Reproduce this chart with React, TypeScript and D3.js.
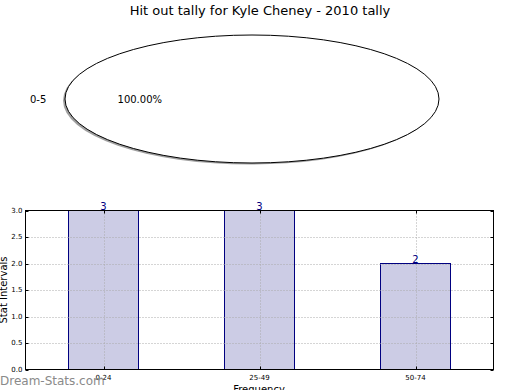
import React from "react";
import * as d3 from "d3";

const pieLabels = ["0-5"];
const pieValues = [100];
const categories = ["0-24", "25-49", "50-74"];
const barValues = [3, 3, 2];
const yTicks = [0, 0.5, 1.0, 1.5, 2.0, 2.5, 3.0];

const W = 520, H = 390;

export default function App() {
  // pie
  const cx = 252, cy = 99, rx = 187, ry = 64;
  const pie = d3.pie<number>().sort(null).startAngle(Math.PI / 2).endAngle(Math.PI / 2 + 2 * Math.PI);
  const arcs = pie(pieValues);
  const arc = d3.arc<d3.PieArcDatum<number>>().innerRadius(0).outerRadius(1);
  const total = d3.sum(pieValues);

  // bars
  const left = 25.5, right = 493.5, top = 210.5, bottom = 369.5;
  const x = d3.scaleLinear().domain([-0.5, categories.length - 0.5]).range([left, right]);
  const y = d3.scaleLinear().domain([0, 3]).range([bottom, top]);
  const bw = 0.45;
  const font = "DejaVu Sans, sans-serif";

  return (
    <svg width={W} height={H} style={{ position: "absolute", left: 0, top: 0 }} fontFamily={font}>
      <rect width={W} height={H} fill="#fff" />
      <text x={260} y={15} textAnchor="middle" fontSize={13}>Hit out tally for Kyle Cheney - 2010 tally</text>
      {/* pie shadow */}
      <g transform={`translate(${cx - 2},${cy + 1.5}) scale(${rx},${ry})`}>
        {arcs.map((a, i) => (
          <path key={i} d={arc(a) || ""} fill="#777" opacity={0.7} />
        ))}
      </g>
      <g transform={`translate(${cx},${cy}) scale(${rx},${ry})`}>
        {arcs.map((a, i) => (
          <path key={i} d={arc(a) || ""} fill="#fff" stroke="#000" strokeWidth={1} vectorEffect="non-scaling-stroke" />
        ))}
      </g>
      {arcs.map((a, i) => {
        const m = (a.startAngle + a.endAngle) / 2;
        const lx = cx + Math.sin(m) * rx * 1.1;
        const ly = cy - Math.cos(m) * ry * 1.1;
        const px = cx + Math.sin(m) * rx * 0.6;
        const py = cy - Math.cos(m) * ry * 0.6;
        return (
          <g key={i} fontSize={10}>
            <text x={lx} y={ly} dy="0.35em" textAnchor={Math.sin(m) < 0 ? "end" : "start"}>{pieLabels[i]}</text>
            <text x={px} y={py} dy="0.35em" textAnchor="middle">{((pieValues[i] / total) * 100).toFixed(2)}%</text>
          </g>
        );
      })}

      {/* bar chart */}
      {barValues.map((v, i) => (
        <rect key={i} x={Math.round(x(i - bw / 2)) + 0.5} y={y(v)} width={Math.round(x(i + bw / 2) - x(i - bw / 2))} height={y(0) - y(v)}
          fill="#ccccE5" stroke="#000080" strokeWidth={1} />
      ))}
      {/* grid */}
      {yTicks.slice(1, -1).map((t) => (
        <line key={"gy" + t} x1={left} x2={right} y1={Math.round(y(t)) + 0.5} y2={Math.round(y(t)) + 0.5} stroke="#aaa" strokeDasharray="1,2" strokeWidth={1} />
      ))}
      {categories.map((c, i) => (
        <line key={"gx" + c} x1={Math.round(x(i)) + 0.5} x2={Math.round(x(i)) + 0.5} y1={top} y2={bottom} stroke="#aaa" strokeDasharray="1,2" strokeWidth={1} />
      ))}
      <rect x={left} y={top} width={right - left} height={bottom - top} fill="none" stroke="#000" strokeWidth={1} />
      {yTicks.map((t) => (
        <g key={"yt" + t}>
          <line x1={left} x2={left + 3} y1={Math.round(y(t)) + 0.5} y2={Math.round(y(t)) + 0.5} stroke="#000" />
          <line x1={right} x2={right - 3} y1={Math.round(y(t)) + 0.5} y2={Math.round(y(t)) + 0.5} stroke="#000" />
          <text x={left - 3} y={y(t)} dy="0.35em" textAnchor="end" fontSize={7}>{t.toFixed(1)}</text>
        </g>
      ))}
      {categories.map((c, i) => (
        <g key={"xt" + c}>
          <line x1={Math.round(x(i)) + 0.5} x2={Math.round(x(i)) + 0.5} y1={bottom} y2={bottom - 3} stroke="#000" />
          <line x1={Math.round(x(i)) + 0.5} x2={Math.round(x(i)) + 0.5} y1={top} y2={top + 3} stroke="#000" />
          <text x={x(i)} y={bottom + 10} textAnchor="middle" fontSize={7}>{c}</text>
        </g>
      ))}
      {barValues.map((v, i) => (
        <text key={"bl" + i} x={x(i)} y={y(v) - 1} textAnchor="middle" fontSize={10} fill="#000080">{v}</text>
      ))}
      <text x={259} y={393} textAnchor="middle" fontSize={10}>Frequency</text>
      <text transform={`translate(7,${(top + bottom) / 2}) rotate(-90)`} textAnchor="middle" fontSize={10}>Stat Intervals</text>
      <text x={0} y={385} fontSize={12} fill="#8a8a8a">Dream-Stats.com</text>
    </svg>
  );
}
